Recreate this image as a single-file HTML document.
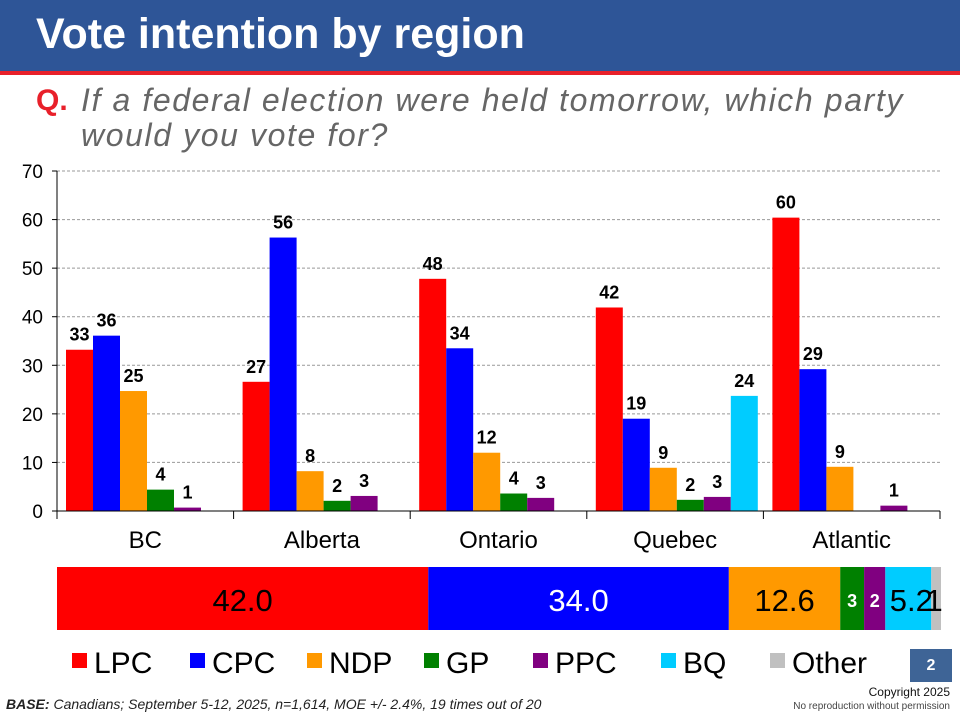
<!DOCTYPE html>
<html><head><meta charset="utf-8"><style>
body{margin:0;width:960px;height:720px;background:#fff;position:relative;overflow:hidden;font-family:"Liberation Sans",sans-serif}
.abs{position:absolute}
</style></head><body>
<div class="abs" style="left:0;top:0;width:960px;height:71px;background:#2e5597"></div>
<div class="abs" style="left:0;top:71px;width:960px;height:4px;background:#e8202a"></div>
<div class="abs" style="left:36px;top:10px;color:#fff;font-weight:bold;font-size:43px">Vote intention by region</div>
<div class="abs" style="left:36px;top:84px;color:#e8202a;font-weight:bold;font-size:30px">Q.</div>
<div class="abs" style="left:81px;top:83px;color:#666;font-style:italic;font-size:32px;letter-spacing:1.6px;line-height:35px;white-space:nowrap">If a federal election were held tomorrow, which party<br>would you vote for?</div>
<svg class="abs" style="left:0;top:0" width="960" height="720">
<g id="g"></g>
</svg>
<div class="abs" style="left:910px;top:649px;width:42px;height:33px;background:#3e6496;color:#fff;font-weight:bold;font-size:16px;text-align:center;line-height:33px">2</div>
<div class="abs" style="left:6px;top:696px;font-size:14px;font-style:italic;color:#222"><b>BASE:</b> Canadians; September 5-12, 2025, n=1,614, MOE +/- 2.4%, 19 times out of 20</div>
<div class="abs" style="right:10px;top:686px;font-size:12px;text-align:right;color:#111;line-height:13px">Copyright 2025<br><span style="font-size:10px;color:#444">No reproduction without permission</span></div>
<script>
const regions=["BC","Alberta","Ontario","Quebec","Atlantic"];
const parties=["LPC","CPC","NDP","GP","PPC","BQ","Other"];
const colors=["#ff0000","#0000ff","#ff9900","#008000","#800080","#00ccff","#c0c0c0"];
const lpc=[33.2,26.6,47.8,41.9,60.4];
const cpc=[36.1,56.3,33.5,19.0,29.2];
const ndp=[24.7,8.2,12.0,8.9,9.1];
const gp=[4.4,2.1,3.6,2.3,0];
const ppc=[0.7,3.1,2.7,2.9,1.1];
const bq=[0,0,0,23.7,0];
const yTicks=[0,10,20,30,40,50,60,70];
const national=[42.0,34.0,12.6,2.7,2.4,5.2,1.1];
const nationalLabels=["42.0","34.0","12.6","3","2","5.2","1"];
const series=[lpc,cpc,ndp,gp,ppc,bq];
const NS="http://www.w3.org/2000/svg";
const g=document.getElementById('g');
function mk(t,a,txt){const e=document.createElementNS(NS,t);for(const k in a)e.setAttribute(k,a[k]);if(txt!==undefined)e.textContent=txt;g.appendChild(e);return e;}
const X0=57,X1=940,Y0=511,Y1=171;
const y=v=>Y0-(v/70)*(Y0-Y1);
const gw=(X1-X0)/regions.length,bw=27;
yTicks.forEach(t=>{
 if(t>0){const l=mk('line',{x1:X0,x2:X1,y1:y(t),y2:y(t),stroke:'#999','stroke-dasharray':'3,2'});
 }
 mk('line',{x1:X0-5,x2:X0,y1:y(t),y2:y(t),stroke:'#000'});
 const tx=mk('text',{x:X0-14,y:y(t)+7,'text-anchor':'end','font-size':19},t);
 
});
regions.forEach((r,i)=>{
 const gx=X0+i*gw;
 series.forEach((s,j)=>{
  const v=s[i]; if(v<=0)return;
  const bx=gx+9+j*bw;
  const b=mk('rect',{x:bx,y:y(v),width:bw,height:Y0-y(v),fill:colors[j]});
  
  
  const lb=mk('text',{x:bx+bw/2,y:y(v)-9,'text-anchor':'middle','font-size':18,'font-weight':'bold'},Math.round(v));
  
 });
 const cl=mk('text',{x:gx+gw/2,y:Y0+37,'text-anchor':'middle','font-size':24},r);
 
});
for(let i=0;i<=regions.length;i++){mk('line',{x1:X0+i*gw,x2:X0+i*gw,y1:Y0,y2:Y0+8,stroke:'#000'});}
mk('line',{x1:X0,x2:X0,y1:Y1,y2:Y0+8,stroke:'#000'});
mk('line',{x1:X0,x2:X1,y1:Y0,y2:Y0,stroke:'#000'});
let cx=57;const SW=884;
national.forEach((v,j)=>{
 const w=v/100*SW;
 const r=mk('rect',{x:cx,y:567,width:w,height:63,fill:colors[j]});
 
 const small=(j==3||j==4);
 let tx=cx+w/2; if(j==5)tx+=3; if(j==6)tx-=2;
 const t=mk('text',{x:tx,y:small?607:611,'text-anchor':'middle','font-size':small?18:31,'font-weight':small?'bold':'normal',fill:(j==1||j==3||j==4)?'#fff':'#000'},nationalLabels[j]);
 
 cx+=w;
});
const lx=[72,190,307,424,533,661,770];
parties.forEach((p,j)=>{
 const s=mk('rect',{x:lx[j],y:653,width:15,height:15,fill:colors[j]});
 
 const t=mk('text',{x:lx[j]+22,y:673,'font-size':30},p);
 
});
</script>
</body></html>
